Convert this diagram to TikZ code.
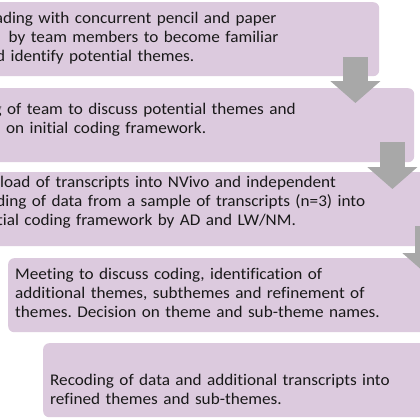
\documentclass[tikz,border=0pt]{standalone}
\usepackage{fontspec}
\setmainfont[FakeStretch=1.054, Ligatures=NoCommon]{Carlito}
\usetikzlibrary{calc,arrows.meta}
\definecolor{boxfill}{RGB}{220,202,222}
\definecolor{arrgray}{RGB}{168,168,168}
\definecolor{txtcol}{RGB}{25,25,25}
\tikzset{
  stepbox/.style={fill=boxfill, draw=none, rounded corners=6pt, minimum width=476pt, minimum height=74pt, inner sep=0pt, anchor=north west},
  txt/.style={text=txtcol, font=\fontsize{16.3}{19}\selectfont\frenchspacing, align=left, text width=520pt, inner sep=0pt, anchor=base west},
  blockarrow/.style={draw=arrgray, line width=25pt, line cap=butt, -{Triangle[width=49pt,length=22pt]}}
}
\begin{document}
\begin{tikzpicture}[x=1pt,y=-1pt]
\useasboundingbox (0,0) rectangle (420,420);
\clip (0,0) rectangle (420,420);
\fill[white] (0,0) rectangle (420,420);
% boxes
\node[stepbox] (b1) at (-97,2) {};
\node[stepbox] (b2) at (-62,88) {};
\node[stepbox] (b3) at (-27,172) {};
\node[stepbox] (b4) at (8,258) {};
\node[stepbox] (b5) at (43,343) {};
% texts
\node[txt] (t1) at ($(b1.north west)+(3,22)$) {Transcript reading with concurrent pencil and paper\\margin notes\hspace{4pt} by team members to become familiar\\with data and identify potential themes.};
\node[txt] (t2) at ($(b2.north west)+(5,26)$) {Meeting of team to discuss potential themes and\\decision on initial coding framework.};
\node[txt] (t3) at ($(b3.north west)+(7,15)$) {Upload of transcripts into NVivo and independent\\coding of data from a sample of transcripts (n=3) into\\initial coding framework by AD and LW/NM.};
\node[txt] (t4) at ($(b4.north west)+(7,21)$) {Meeting to discuss coding, identification of\\additional themes, subthemes and refinement of\\themes. Decision on theme and sub-theme names.};
\node[txt] (t5) at ($(b5.north west)+(7,42)$) {Recoding of data and additional transcripts into\\refined themes and sub-themes.};
% arrows
\coordinate (a1s) at ($(b1.south east)+(-24,-19)$);
\coordinate (a1t) at ($(a1s |- b2.north)+(0,15)$);
\coordinate (a2s) at ($(b2.south east)+(-22,-20)$);
\coordinate (a2t) at ($(a2s |- b3.north)+(0,17)$);
\coordinate (a3s) at ($(b3.south east)+(-22,-20)$);
\coordinate (a3t) at ($(a3s |- b4.north)+(0,17)$);
\draw[blockarrow] (a1s) -- (a1t);
\draw[blockarrow] (a2s) -- (a2t);
\draw[blockarrow] (a3s) -- (a3t);
\end{tikzpicture}
\end{document}
